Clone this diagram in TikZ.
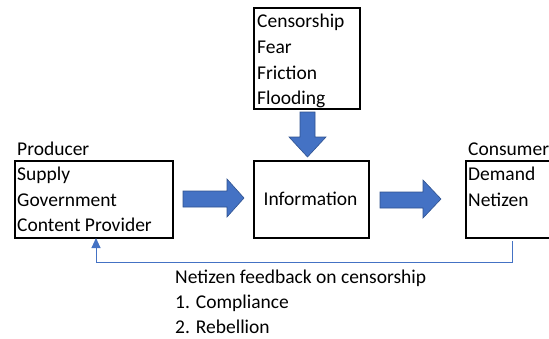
\documentclass[tikz,border=0pt]{standalone}
\usepackage{fontspec}
\setmainfont{Carlito}
\usetikzlibrary{arrows.meta}
\definecolor{accblue}{HTML}{4472C4}
\definecolor{accedge}{HTML}{2F528F}
\begin{document}
\begin{tikzpicture}[x=1pt,y=-1pt,
  box/.style={draw=black,line width=1.7pt,inner sep=0pt,anchor=north west},
  txt/.style={anchor=base west,inner sep=0pt,font=\fontsize{19.5}{23}\selectfont},
  blockarrow/.style={fill=accblue,draw=accedge,line width=0.6pt},
  feedback/.style={draw=accblue,line width=0.9pt,-{Triangle[length=10pt,width=9pt]}}]
\useasboundingbox (0,0) rectangle (549,338);
% boxes
\node[box,minimum width=106pt,minimum height=101pt] (top) at (253,7) {};
\node[box,minimum width=158pt,minimum height=77pt] (prod) at (14,160) {};
\node[box,minimum width=115pt,minimum height=77pt] (info) at (253,160) {};
\node[box,minimum width=90pt,minimum height=77pt] (cons) at (465,160) {};
% texts
\node[txt] (t1) at (257,27) {Censorship};
\node[txt] (t2) at (257,53) {Fear};
\node[txt] (t3) at (257,79) {Friction};
\node[txt] (t4) at (257,104) {Flooding};
\node[txt] (p0) at (17,155) {Producer};
\node[txt] (p1) at (17,180) {Supply};
\node[txt] (p2) at (17,206) {Government};
\node[txt] (p3) at (17,231) {Content Provider};
\node[txt,anchor=base] (i1) at (310.5,205) {Information};
\node[txt] (c0) at (468,155) {Consumer};
\node[txt] (c1) at (468,180) {Demand};
\node[txt] (c2) at (468,206) {Netizen};
\node[txt] (f0) at (175,283) {Netizen feedback on censorship};
\node[txt] (f1) at (175,308) {1. Compliance};
\node[txt] (f2) at (175,333) {2. Rebellion};
% block arrows
\draw[blockarrow] (300,112) -- (315,112) -- (315,137) -- (326,137) -- (307.5,157)
  -- (289,137) -- (300,137) -- cycle;
\draw[blockarrow] (183,191) -- (227,191) -- (227,179) -- (244,198) -- (227,217)
  -- (227,207) -- (183,207) -- cycle;
\draw[blockarrow] (380,192) -- (423,192) -- (423,180) -- (441,199) -- (423,218)
  -- (423,208) -- (380,208) -- cycle;
% feedback connector
\coordinate (fbstart) at (512,241);
\coordinate (fbturn) at (96,262);
\coordinate (fbend) at (96,238);
\draw[feedback] (fbstart) |- (fbturn) -- (fbend);
\end{tikzpicture}
\end{document}
